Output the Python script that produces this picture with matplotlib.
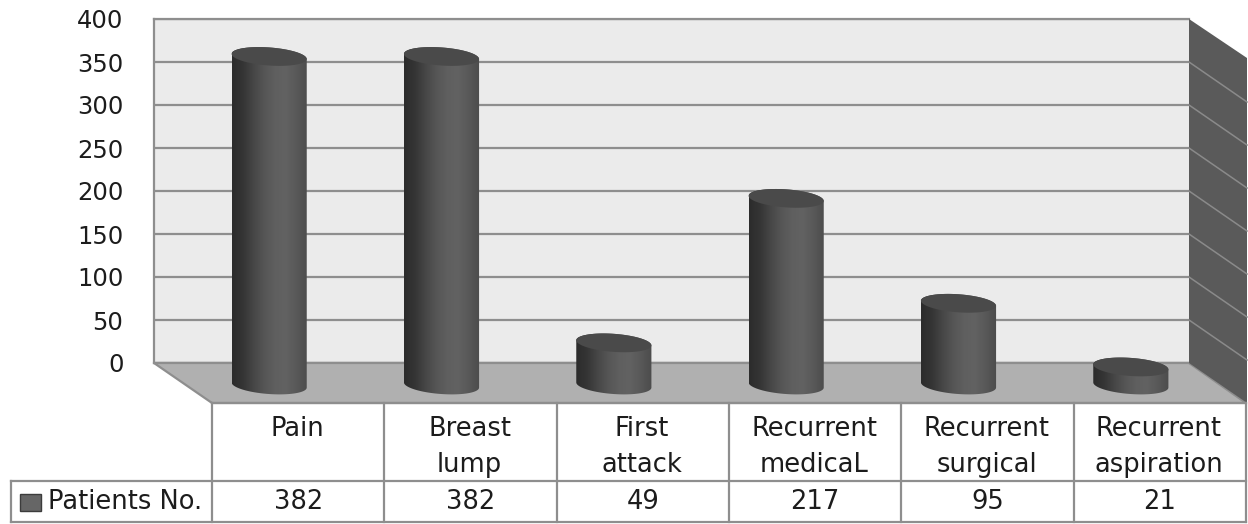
import numpy as np
import matplotlib
matplotlib.use('Agg')
import matplotlib.pyplot as plt
from matplotlib.patches import Polygon, Rectangle
from matplotlib.colors import LinearSegmentedColormap

categories = ['Pain', 'Breast\nlump', 'First\nattack', 'Recurrent\nmedicaL', 'Recurrent\nsurgical', 'Recurrent\naspiration']
patients = [382, 382, 49, 217, 95, 21]
series_name = 'Patients No.'
y_ticks = [0, 50, 100, 150, 200, 250, 300, 350, 400]

W, H = 1248, 524
GRID = '#8e8e8e'
TXT = '#1c1c1c'
FS_AXIS = 17.5
FS_TABLE = 18.5

plt.rcParams['font.family'] = ['DejaVu Sans']
fig = plt.figure(figsize=(W / 100, H / 100), dpi=100, facecolor='white')


def place(x0, x1, ytop, ybot, z):
    # axes placed by pixel box of the picture
    return fig.add_axes([x0 / W, 1 - ybot / H, (x1 - x0) / W, (ybot - ytop) / H], zorder=z)


# back wall with the real y axis
wall = place(154, 1189, 19, 363, 0)
wall.set_facecolor('#ebebeb')
wall.set_xlim(0, 1)
wall.set_ylim(0, 400)
wall.set_xticks([])
wall.set_yticks(y_ticks)
wall.tick_params(axis='y', length=0, pad=22, labelsize=FS_AXIS, labelcolor=TXT)
wall.grid(axis='y', color=GRID, linewidth=1.6)
wall.set_axisbelow(True)
for s in wall.spines.values():
    s.set_color(GRID)
    s.set_linewidth(1.6)
wall.spines['right'].set_visible(False)

# floor, side wall and table in picture pixels
frame = fig.add_axes([0, 0, 1, 1], zorder=1)
frame.set_xlim(0, W)
frame.set_ylim(H, 0)
frame.axis('off')

frame.add_patch(Polygon([(154, 363), (1189, 363), (1246, 403), (212, 403)], closed=True,
                        facecolor='#b0b0b0', edgecolor=GRID, linewidth=1.6))
frame.add_patch(Polygon([(1189, 19), (1247, 58), (1247, 403), (1189, 363)], closed=True,
                        facecolor='#5a5a5a', edgecolor='none'))
for v in y_ticks[1:-1]:
    yv = 363 - v * 344 / 400
    frame.plot([1189, 1247], [yv, yv + 40], color='#8a8a8a', linewidth=1.1)

cell_x = np.linspace(212, 1246, len(categories) + 1)
for x in cell_x:
    frame.plot([x, x], [403, 522], color=GRID, linewidth=1.6)
frame.plot([212, 1246], [403, 403], color=GRID, linewidth=1.6)
frame.plot([11, 1246], [481, 481], color=GRID, linewidth=1.6)
frame.plot([11, 1246], [522, 522], color=GRID, linewidth=1.6)
frame.plot([11, 11], [481, 522], color=GRID, linewidth=1.6)

for i, name in enumerate(categories):
    xc = (cell_x[i] + cell_x[i + 1]) / 2
    frame.text(xc - 1, 416, name, ha='center', va='top', fontsize=FS_TABLE, color=TXT, linespacing=1.5)
    frame.text(xc, 502, str(patients[i]), ha='center', va='center', fontsize=FS_TABLE, color=TXT)

frame.add_patch(Rectangle((20, 494), 21, 17, facecolor='#666666', edgecolor='#3c3c3c', linewidth=1))
frame.text(48, 502, series_name, ha='left', va='center', fontsize=FS_TABLE, color=TXT)

# cylinders on the front plane, same value scale as the table
bars = place(183, 1217, 41, 385 + 30 * 0.86, 2)
bars.patch.set_alpha(0)
bars.axis('off')

shade = LinearSegmentedColormap.from_list('cyl', ['#2c2c2c', '#353535', '#474747', '#565656', '#5f5f5f', '#626262', '#585858', '#4c4c4c'])
grad = np.linspace(0, 1, 128).reshape(1, -1)
half_w = 0.218
half_h = 10.5
tilt = 3.0
t = np.linspace(0, 2 * np.pi, 121)


def rim(cx, level, tt):
    return np.column_stack([cx + half_w * np.cos(tt), level + half_h * np.sin(tt) - tilt * np.cos(tt)])


for i, v in enumerate(patients):
    body_pts = np.vstack([rim(i, 0, t[60:121]), rim(i, v, t[:61])])
    body = Polygon(body_pts, closed=True, facecolor='none', edgecolor='none', transform=bars.transData)
    bars.add_patch(body)
    im = bars.imshow(grad, cmap=shade, aspect='auto', zorder=2, interpolation='bilinear',
                     extent=[i - half_w, i + half_w, -half_h - tilt, v + half_h + tilt])
    im.set_clip_path(body)
    bars.add_patch(Polygon(rim(i, v, t), closed=True, facecolor='#4a4a4a', edgecolor='none', zorder=3))

bars.set_xlim(-0.5, len(categories) - 0.5)
bars.set_ylim(-30, 400)

fig.savefig('out.png', dpi=100)
